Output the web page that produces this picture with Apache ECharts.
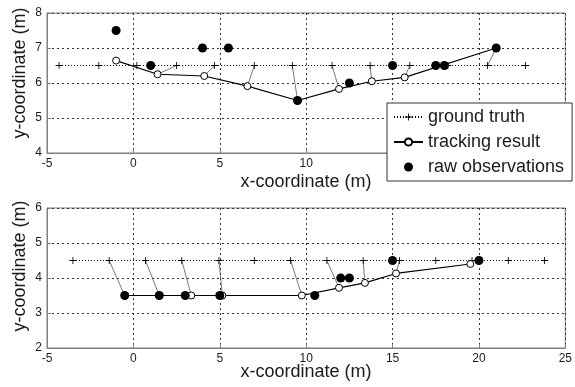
<!DOCTYPE html>
<html>
<head>
<meta charset="utf-8">
<script src="https://cdn.jsdelivr.net/npm/echarts@6/dist/echarts.min.js"></script>
<style>html,body{margin:0;padding:0;background:#fff;}#c{width:575px;height:387px;}</style>
</head>
<body>
<div id="c"></div>
<script>
// ---- Top panel data ----
var gt1X = [-4.3, -2.0, 0.2, 2.5, 4.7, 7.0, 9.2, 11.5, 13.7, 16.0, 18.2, 20.5, 22.7];
var gt1Y = [6.5, 6.5, 6.5, 6.5, 6.5, 6.5, 6.5, 6.5, 6.5, 6.5, 6.5, 6.5, 6.5];
var tr1X = [-1.0, 1.4, 4.1, 6.6, 9.5, 11.9, 13.8, 15.7, 21.0];
var tr1Y = [6.64, 6.25, 6.2, 5.91, 5.5, 5.83, 6.05, 6.16, 7.0];
var ob1X = [-1.0, 1.0, 4.0, 5.5, 9.5, 12.5, 15.0, 17.5, 18.0, 21.0];
var ob1Y = [7.5, 6.5, 7.0, 7.0, 5.5, 6.0, 6.5, 6.5, 6.5, 7.0];
var link1Gt = [3, 4, 5, 6, 7, 8, 9, 11];
var link1Tr = [1, 2, 3, 4, 5, 6, 7, 8];
// ---- Bottom panel data ----
var gt2X = [-3.5, -1.4, 0.7, 2.8, 4.95, 7.0, 9.1, 11.2, 13.3, 15.4, 17.5, 19.6, 21.7, 23.8];
var gt2Y = [4.5, 4.5, 4.5, 4.5, 4.5, 4.5, 4.5, 4.5, 4.5, 4.5, 4.5, 4.5, 4.5, 4.5];
var tr2X = [-0.5, 1.5, 3.35, 5.15, 9.75, 11.9, 13.4, 15.2, 19.5];
var tr2Y = [3.5, 3.5, 3.5, 3.5, 3.5, 3.72, 3.86, 4.13, 4.4];
var ob2X = [-0.5, 1.5, 3.0, 5.0, 10.5, 12.0, 12.5, 15.0, 20.0];
var ob2Y = [3.5, 3.5, 3.5, 3.5, 3.5, 4.0, 4.0, 4.5, 4.5];
var link2Gt = [1, 2, 3, 4, 6, 7, 8, 9, 11];
var link2Tr = [0, 1, 2, 3, 4, 5, 6, 7, 8];
// ---- Axes ----
var xMin = -5, xMax = 25, xStep = 5;
var y1Min = 4, y1Max = 8, y2Min = 2, y2Max = 6, yStep = 1;
var xTitle = 'x-coordinate (m)';
var yTitle = 'y-coordinate (m)';
var legendNames = ['ground truth', 'tracking result', 'raw observations'];

function pts(xs, ys) { return xs.map(function (x, i) { return [x, ys[i]]; }); }
function links(gx, gy, tx, ty, gi, ti) {
  var out = [];
  gi.forEach(function (g, k) {
    out.push([gx[g], gy[g]]);
    out.push([tx[ti[k]], ty[ti[k]]]);
    out.push(['-', '-']);
  });
  return out;
}

var FONT = '"Liberation Sans", Arial, sans-serif';
var AXC = '#7f7f7f';
var TXT = '#1a1a1a';
var PLUS = 'path://M-0.12,-1H0.12V-0.12H1V0.12H0.12V1H-0.12V0.12H-1V-0.12H-0.12Z';

function xAxis(idx) {
  return {
    type: 'value', gridIndex: idx, min: xMin, max: xMax, interval: xStep,
    axisLine: { show: true, onZero: false, lineStyle: { color: AXC, width: 1 } },
    axisTick: { show: true, inside: true, length: 4, lineStyle: { color: AXC } },
    axisLabel: { color: TXT, fontSize: 12, fontFamily: FONT, margin: 5 },
    splitLine: { show: true, lineStyle: { color: '#333', width: 1, type: [2, 3] } }
  };
}
function yAxis(idx, mn, mx) {
  return {
    type: 'value', gridIndex: idx, min: mn, max: mx, interval: yStep,
    axisLine: { show: true, onZero: false, lineStyle: { color: AXC, width: 1 } },
    axisTick: { show: true, inside: true, length: 4, lineStyle: { color: AXC } },
    axisLabel: { color: TXT, fontSize: 12, fontFamily: FONT, margin: 5 },
    splitLine: { show: true, lineStyle: { color: '#333', width: 1, type: [2, 3] } }
  };
}
function panelSeries(idx, gx, gy, tx, ty, ox, oy, gi, ti) {
  return [
    { type: 'line', name: 'assoc' + idx, xAxisIndex: idx, yAxisIndex: idx, z: 2,
      data: links(gx, gy, tx, ty, gi, ti), showSymbol: false, symbol: 'none', connectNulls: false,
      lineStyle: { color: '#555', width: 0.8 }, silent: true },
    { type: 'line', name: legendNames[0], xAxisIndex: idx, yAxisIndex: idx, z: 3,
      data: pts(gx, gy), symbol: PLUS, symbolSize: 7, showSymbol: true,
      itemStyle: { color: '#000', opacity: 1 }, lineStyle: { color: '#000', width: 1, type: [1, 2] } },
    { type: 'line', name: legendNames[1], xAxisIndex: idx, yAxisIndex: idx, z: 4,
      data: pts(tx, ty), symbol: 'circle', symbolSize: 7, showSymbol: true,
      itemStyle: { color: '#fff', borderColor: '#000', borderWidth: 1, opacity: 1 },
      lineStyle: { color: '#000', width: 1.2 } },
    { type: 'scatter', name: legendNames[2], xAxisIndex: idx, yAxisIndex: idx, z: 5,
      data: pts(ox, oy), symbol: 'circle', symbolSize: 9,
      itemStyle: { color: '#000', opacity: 1 } }
  ];
}

var chart = echarts.init(document.getElementById('c'), null, { renderer: 'canvas' });
chart.setOption({
  animation: false,
  backgroundColor: '#fff',
  grid: [
    { left: 47, top: 13, width: 519, height: 140, show: true, borderColor: AXC, borderWidth: 1, backgroundColor: 'transparent' },
    { left: 47, top: 208, width: 519, height: 140, show: true, borderColor: AXC, borderWidth: 1, backgroundColor: 'transparent' }
  ],
  xAxis: [xAxis(0), xAxis(1)],
  yAxis: [yAxis(0, y1Min, y1Max), yAxis(1, y2Min, y2Max)],
  legend: {
    data: legendNames, orient: 'vertical', left: 387, top: 103,
    backgroundColor: '#fff', borderColor: '#333', borderWidth: 1, borderRadius: 0,
    padding: [4, 8, 4, 6], itemGap: 5, itemWidth: 29, itemHeight: 9,
    textStyle: { fontSize: 18, fontFamily: FONT, color: TXT, lineHeight: 20 },
    selectedMode: false, z: 10
  },
  graphic: [
    { type: 'text', x: 306, y: 182, style: { text: xTitle, font: '18px ' + FONT, fill: TXT, align: 'center', verticalAlign: 'middle' } },
    { type: 'text', x: 306, y: 372, style: { text: xTitle, font: '18px ' + FONT, fill: TXT, align: 'center', verticalAlign: 'middle' } },
    { type: 'text', x: 20, y: 73, rotation: Math.PI / 2, style: { text: yTitle, font: '18px ' + FONT, fill: TXT, align: 'center', verticalAlign: 'middle' } },
    { type: 'text', x: 20, y: 266, rotation: Math.PI / 2, style: { text: yTitle, font: '18px ' + FONT, fill: TXT, align: 'center', verticalAlign: 'middle' } }
  ],
  series: [].concat(
    panelSeries(0, gt1X, gt1Y, tr1X, tr1Y, ob1X, ob1Y, link1Gt, link1Tr),
    panelSeries(1, gt2X, gt2Y, tr2X, tr2Y, ob2X, ob2Y, link2Gt, link2Tr)
  )
});
</script>
</body>
</html>
